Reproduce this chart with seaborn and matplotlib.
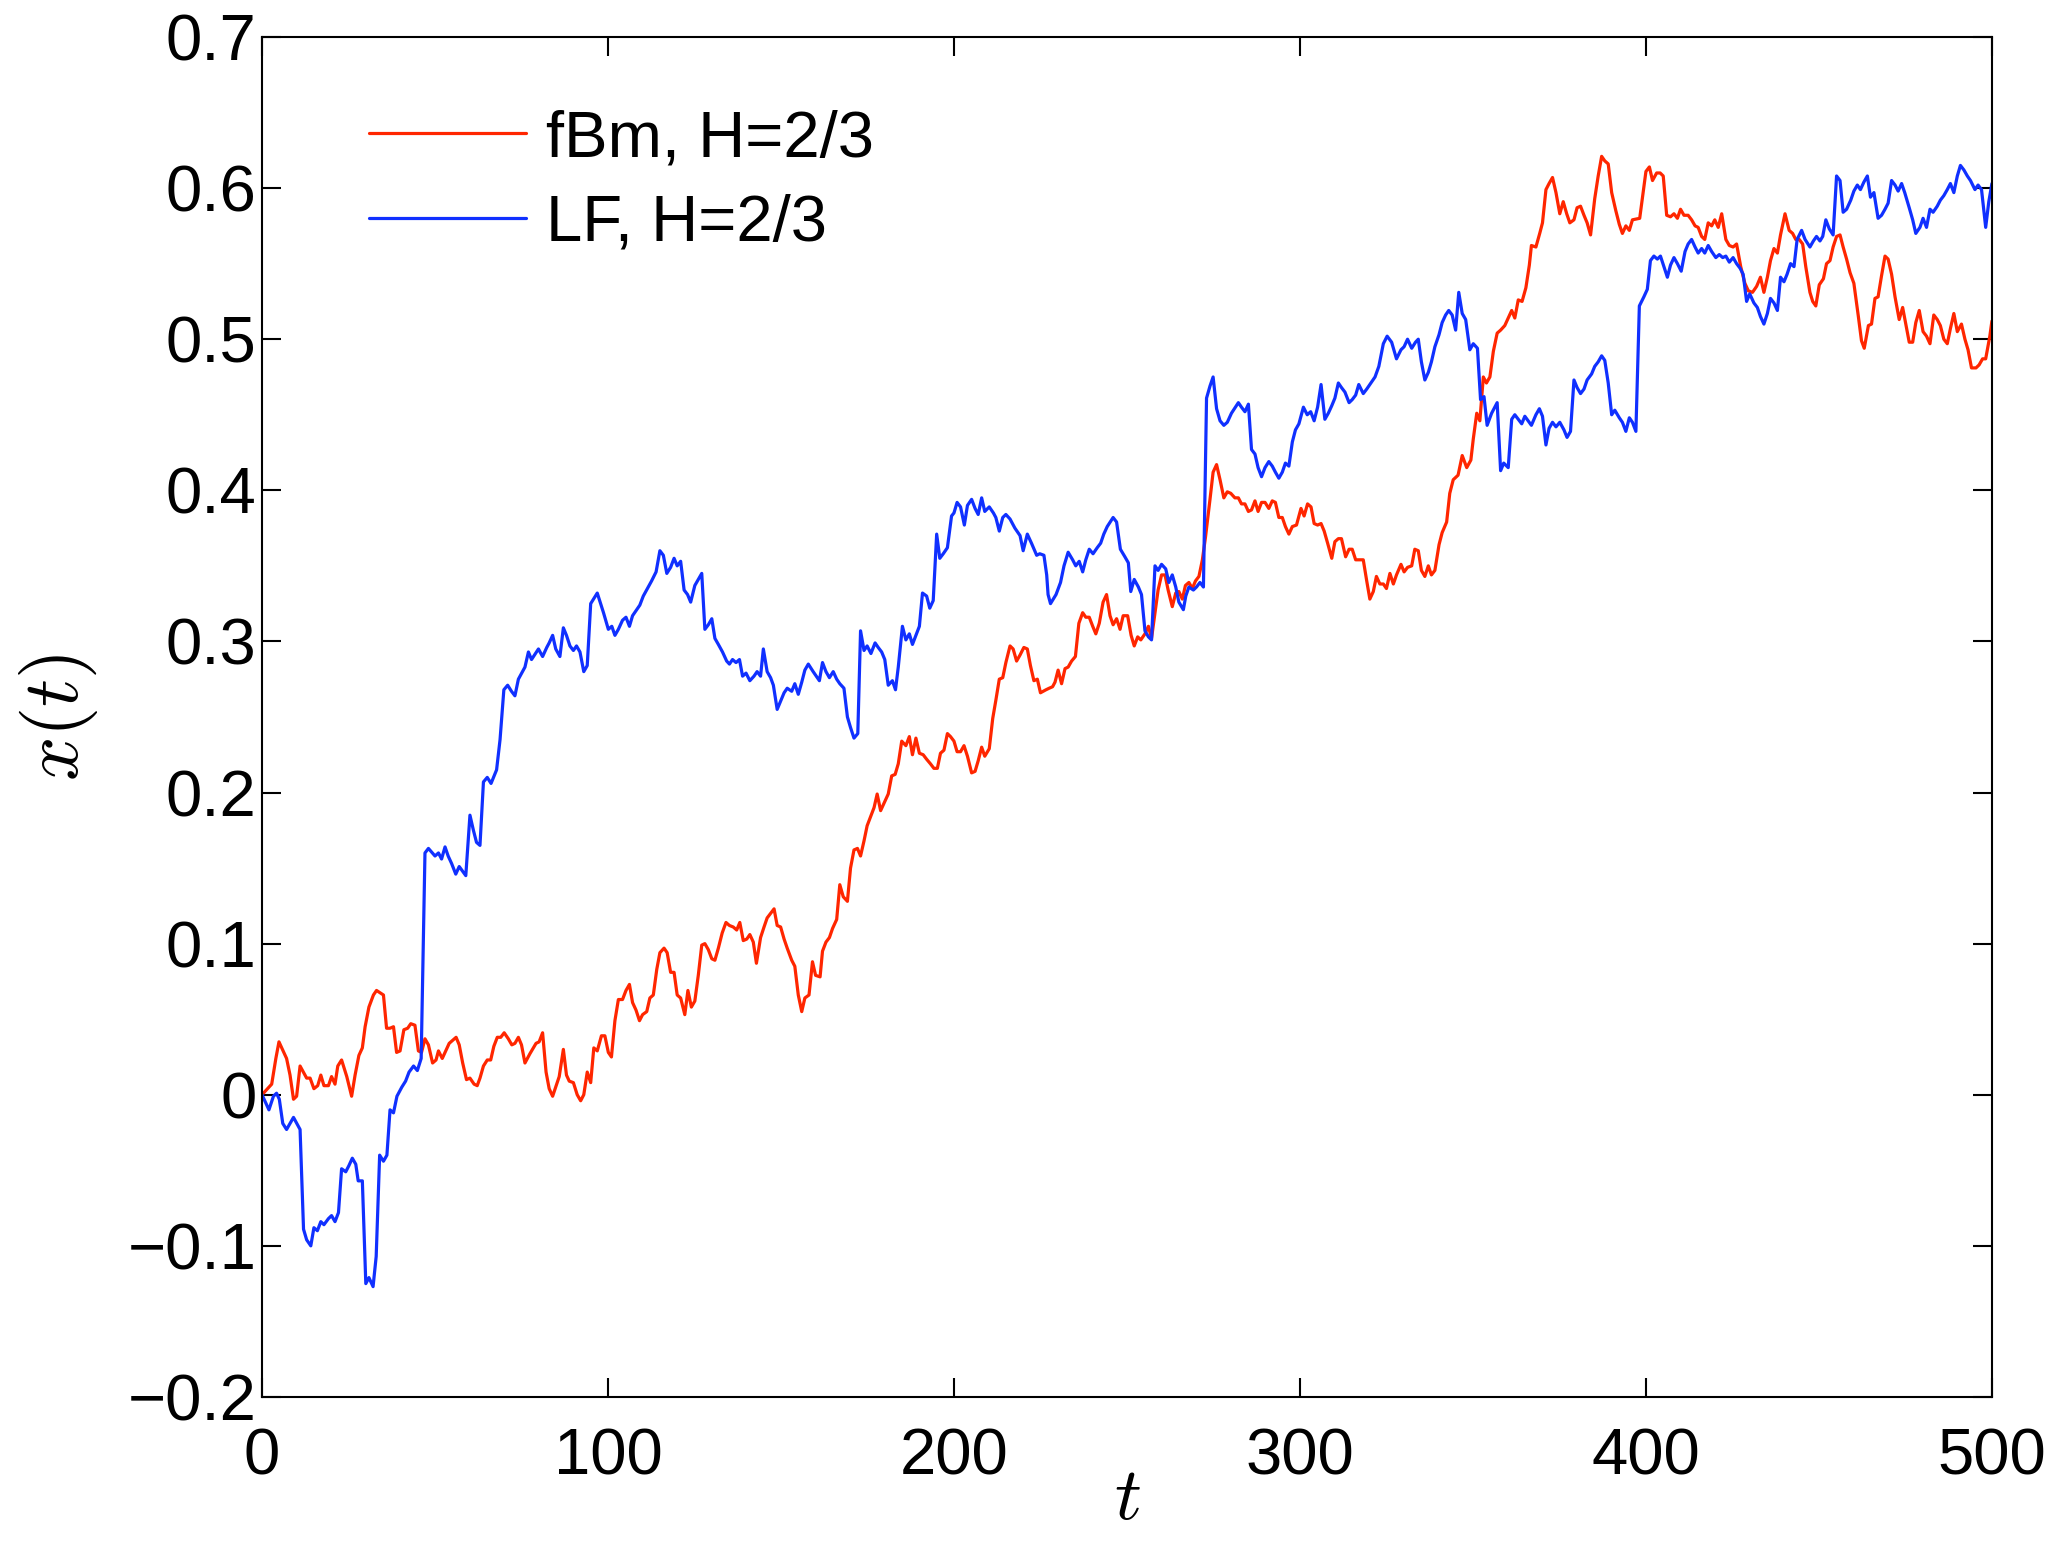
import pandas as pd
import seaborn as sns
import matplotlib.pyplot as plt

# values: (t, x(t)) vertices
fbm = [
    (0.0, 0.000), (2.8, 0.007), (4.0, 0.024), (4.9, 0.035), (7.1, 0.024), (8.1, 0.013), (9.1, -0.003),
    (10.0, -0.001), (11.0, 0.019), (12.9, 0.011), (13.9, 0.011), (15.0, 0.004), (16.1, 0.006), (17.0, 0.013),
    (17.9, 0.006), (19.2, 0.006), (20.1, 0.012), (21.1, 0.007), (21.9, 0.019), (23.0, 0.023), (24.5, 0.012),
    (25.9, -0.001), (26.9, 0.013), (28.0, 0.026), (29.0, 0.031), (29.8, 0.045), (30.9, 0.058), (32.2, 0.066),
    (33.1, 0.069), (35.1, 0.066), (36.0, 0.044), (37.0, 0.044), (38.0, 0.045), (38.9, 0.028), (39.9, 0.029),
    (41.0, 0.043), (42.1, 0.044), (43.0, 0.047), (44.2, 0.046), (45.2, 0.029), (46.1, 0.028), (47.1, 0.037),
    (48.1, 0.033), (49.3, 0.021), (50.3, 0.023), (51.0, 0.029), (52.1, 0.024), (54.1, 0.034), (55.1, 0.036),
    (56.1, 0.038), (57.0, 0.033), (58.0, 0.021), (59.1, 0.010), (60.1, 0.011), (61.3, 0.007), (62.2, 0.006),
    (63.0, 0.011), (64.0, 0.019), (65.1, 0.023), (66.1, 0.023), (67.0, 0.032), (68.0, 0.038), (69.0, 0.038),
    (70.0, 0.041), (71.2, 0.037), (72.2, 0.033), (73.1, 0.034), (74.1, 0.038), (75.0, 0.033), (76.0, 0.021),
    (77.4, 0.027), (79.2, 0.034), (80.1, 0.035), (81.1, 0.041), (82.1, 0.015), (83.0, 0.004), (84.0, -0.001),
    (85.9, 0.012), (87.1, 0.030), (88.0, 0.013), (88.8, 0.009), (90.0, 0.008), (91.1, 0.000), (92.1, -0.004),
    (93.0, 0.000), (94.0, 0.015), (95.0, 0.008), (95.9, 0.031), (96.9, 0.029), (98.1, 0.039), (99.1, 0.039),
    (100.1, 0.028), (101.0, 0.025), (102.0, 0.049), (103.0, 0.063), (104.2, 0.063), (105.2, 0.069),
    (106.2, 0.073), (107.1, 0.061), (108.1, 0.056), (109.1, 0.049), (110.0, 0.053), (111.2, 0.055),
    (112.1, 0.064), (113.1, 0.066), (114.1, 0.083), (115.0, 0.094), (116.2, 0.097), (117.1, 0.094),
    (118.1, 0.081), (119.1, 0.081), (120.0, 0.066), (121.0, 0.064), (122.2, 0.053), (123.1, 0.069),
    (124.1, 0.058), (125.1, 0.062), (126.1, 0.079), (127.1, 0.099), (128.0, 0.100), (129.0, 0.096),
    (130.0, 0.090), (130.9, 0.089), (131.9, 0.097), (133.0, 0.107), (134.1, 0.114), (135.1, 0.112),
    (136.2, 0.111), (137.2, 0.109), (138.1, 0.114), (139.1, 0.102), (140.1, 0.103), (141.0, 0.106),
    (142.0, 0.101), (142.9, 0.087), (144.1, 0.104), (145.1, 0.111), (146.0, 0.117), (147.0, 0.120),
    (148.0, 0.123), (148.9, 0.112), (149.9, 0.111), (150.9, 0.103), (151.8, 0.097), (153.1, 0.089),
    (154.0, 0.085), (155.0, 0.066), (156.0, 0.055), (156.9, 0.064), (158.1, 0.066), (159.1, 0.088),
    (160.0, 0.079), (161.3, 0.078), (162.0, 0.095), (163.0, 0.101), (164.0, 0.104), (164.9, 0.110),
    (166.1, 0.116), (167.0, 0.139), (168.0, 0.131), (169.2, 0.128), (170.1, 0.150), (171.1, 0.162),
    (172.1, 0.163), (173.0, 0.158), (174.0, 0.168), (174.9, 0.178), (175.9, 0.184), (176.9, 0.190),
    (177.8, 0.199), (178.8, 0.188), (179.8, 0.193), (181.0, 0.199), (182.0, 0.211), (183.0, 0.212),
    (183.9, 0.219), (184.9, 0.234), (186.1, 0.231), (187.1, 0.237), (188.0, 0.225), (189.0, 0.236),
    (190.0, 0.226), (191.1, 0.225), (192.1, 0.222), (193.2, 0.219), (194.2, 0.216), (195.2, 0.216),
    (196.1, 0.226), (197.1, 0.228), (198.1, 0.239), (199.0, 0.237), (200.0, 0.234), (200.9, 0.227),
    (201.9, 0.227), (202.9, 0.231), (203.9, 0.224), (205.1, 0.213), (206.1, 0.214), (207.0, 0.221),
    (208.0, 0.230), (208.9, 0.224), (210.2, 0.229), (211.2, 0.249), (212.1, 0.261), (213.1, 0.275),
    (214.1, 0.276), (215.0, 0.286), (216.2, 0.297), (217.1, 0.295), (218.1, 0.287), (219.1, 0.291),
    (220.2, 0.296), (221.2, 0.295), (222.1, 0.284), (223.1, 0.274), (224.1, 0.275), (225.0, 0.266),
    (226.6, 0.268), (227.5, 0.269), (228.5, 0.270), (229.2, 0.273), (230.1, 0.281), (231.1, 0.272),
    (232.1, 0.282), (233.0, 0.283), (234.0, 0.287), (235.1, 0.290), (236.1, 0.312), (237.2, 0.319),
    (238.1, 0.316), (239.1, 0.316), (240.1, 0.310), (241.0, 0.305), (242.0, 0.312), (243.1, 0.326),
    (244.1, 0.331), (245.1, 0.317), (246.0, 0.311), (247.0, 0.315), (248.0, 0.308), (248.9, 0.317),
    (250.2, 0.317), (251.2, 0.304), (252.1, 0.297), (253.1, 0.303), (254.0, 0.301), (255.2, 0.305),
    (256.2, 0.310), (257.1, 0.302), (258.1, 0.319), (259.0, 0.334), (260.0, 0.344), (261.0, 0.344),
    (261.9, 0.334), (263.1, 0.323), (264.1, 0.332), (265.0, 0.333), (266.0, 0.328), (266.9, 0.337),
    (267.9, 0.339), (268.9, 0.335), (269.8, 0.340), (270.8, 0.343), (271.8, 0.354), (272.7, 0.369),
    (274.0, 0.394), (274.9, 0.412), (275.9, 0.417), (276.9, 0.407), (278.0, 0.395), (279.0, 0.399),
    (280.0, 0.398), (281.2, 0.395), (282.2, 0.395), (283.1, 0.391), (284.1, 0.391), (285.1, 0.386),
    (286.0, 0.387), (287.0, 0.393), (287.9, 0.386), (288.9, 0.392), (289.9, 0.392), (291.0, 0.388),
    (292.0, 0.393), (292.9, 0.392), (293.9, 0.382), (294.9, 0.382), (295.8, 0.376), (296.8, 0.371),
    (297.8, 0.376), (299.0, 0.377), (300.3, 0.388), (301.2, 0.383), (302.2, 0.391), (303.2, 0.389),
    (304.1, 0.378), (305.1, 0.377), (306.1, 0.378), (307.0, 0.373), (308.0, 0.365), (309.2, 0.355),
    (310.1, 0.366), (311.1, 0.368), (312.0, 0.368), (313.2, 0.356), (314.2, 0.361), (315.1, 0.361),
    (316.1, 0.354), (317.3, 0.354), (318.3, 0.354), (319.3, 0.340), (320.2, 0.328), (321.2, 0.333),
    (322.1, 0.343), (323.1, 0.338), (324.1, 0.338), (325.0, 0.335), (326.0, 0.345), (327.0, 0.338),
    (327.9, 0.344), (329.2, 0.351), (330.1, 0.346), (331.1, 0.349), (332.3, 0.350), (333.2, 0.361),
    (334.2, 0.360), (335.1, 0.347), (336.1, 0.343), (337.1, 0.350), (338.0, 0.344), (339.0, 0.347),
    (340.2, 0.364), (341.1, 0.372), (342.4, 0.379), (343.3, 0.398), (344.3, 0.407), (345.7, 0.410),
    (346.9, 0.423), (348.2, 0.415), (349.4, 0.420), (350.1, 0.434), (351.1, 0.451), (352.0, 0.446),
    (353.0, 0.475), (353.9, 0.471), (354.9, 0.475), (355.9, 0.492), (357.0, 0.504), (358.0, 0.506),
    (359.2, 0.509), (360.2, 0.514), (361.2, 0.519), (362.1, 0.514), (363.1, 0.526), (364.2, 0.525),
    (365.3, 0.534), (366.3, 0.549), (366.9, 0.562), (368.2, 0.561), (369.3, 0.570), (370.1, 0.577),
    (371.1, 0.599), (372.0, 0.603), (373.0, 0.607), (374.0, 0.597), (375.1, 0.583), (376.1, 0.591),
    (377.1, 0.583), (378.0, 0.577), (379.2, 0.579), (380.1, 0.587), (381.1, 0.588), (382.1, 0.582),
    (383.0, 0.577), (384.0, 0.569), (385.2, 0.593), (386.2, 0.608), (387.2, 0.621), (388.1, 0.618),
    (389.1, 0.616), (390.1, 0.597), (391.3, 0.585), (392.3, 0.576), (393.2, 0.570), (394.2, 0.575),
    (395.2, 0.572), (396.1, 0.579), (398.2, 0.580), (399.2, 0.597), (400.0, 0.611), (401.0, 0.614),
    (401.9, 0.605), (403.1, 0.610), (404.1, 0.610), (405.0, 0.608), (406.0, 0.582), (407.1, 0.581),
    (408.1, 0.583), (409.1, 0.580), (410.0, 0.586), (411.0, 0.582), (412.2, 0.582), (413.2, 0.579),
    (414.2, 0.575), (415.1, 0.574), (416.1, 0.568), (417.0, 0.566), (418.0, 0.577), (419.0, 0.575),
    (419.9, 0.579), (420.9, 0.574), (421.9, 0.583), (423.1, 0.566), (424.1, 0.562), (425.2, 0.561),
    (426.2, 0.563), (427.4, 0.548), (428.6, 0.537), (429.6, 0.532), (430.8, 0.531), (432.0, 0.535),
    (433.1, 0.541), (434.1, 0.531), (435.1, 0.541), (436.0, 0.552), (437.0, 0.560), (438.0, 0.557),
    (438.9, 0.569), (440.2, 0.583), (441.4, 0.572), (442.4, 0.570), (443.3, 0.566), (444.3, 0.566),
    (445.3, 0.563), (446.2, 0.548), (447.4, 0.531), (448.2, 0.525), (449.1, 0.522), (450.1, 0.536),
    (451.3, 0.540), (452.2, 0.550), (453.2, 0.552), (454.1, 0.561), (455.1, 0.568), (456.1, 0.569),
    (457.0, 0.561), (458.0, 0.553), (459.0, 0.544), (460.1, 0.537), (461.4, 0.515), (462.3, 0.499),
    (463.1, 0.494), (464.3, 0.509), (465.2, 0.510), (466.2, 0.527), (467.1, 0.528), (468.1, 0.542),
    (469.1, 0.555), (470.0, 0.553), (471.0, 0.543), (472.0, 0.528), (473.2, 0.513), (474.2, 0.521),
    (475.1, 0.510), (476.1, 0.498), (477.1, 0.498), (478.0, 0.511), (479.0, 0.519), (480.1, 0.505),
    (481.1, 0.502), (482.1, 0.497), (483.2, 0.516), (484.2, 0.513), (485.1, 0.509), (486.1, 0.500),
    (487.1, 0.497), (488.0, 0.507), (489.0, 0.517), (490.0, 0.505), (491.2, 0.510), (492.2, 0.500),
    (493.1, 0.493), (494.1, 0.481), (495.4, 0.481), (496.3, 0.483), (497.3, 0.487), (498.2, 0.487),
    (499.4, 0.502), (500.0, 0.512),
]

lf = [
    (0.0, 0.000), (2.0, -0.010), (3.3, -0.001), (4.2, 0.001), (5.0, -0.003), (6.0, -0.019), (7.1, -0.023),
    (9.1, -0.015), (11.0, -0.023), (12.0, -0.089), (12.9, -0.096), (14.1, -0.100), (15.0, -0.088),
    (16.0, -0.090), (17.0, -0.084), (17.9, -0.086), (19.2, -0.082), (20.1, -0.080), (21.1, -0.084),
    (22.1, -0.078), (23.0, -0.049), (24.2, -0.051), (25.1, -0.047), (26.1, -0.042), (27.1, -0.046),
    (27.8, -0.057), (29.0, -0.057), (30.0, -0.125), (30.9, -0.121), (32.1, -0.127), (33.0, -0.107),
    (34.0, -0.040), (35.1, -0.044), (36.1, -0.040), (37.0, -0.010), (38.0, -0.012), (39.0, -0.001),
    (40.4, 0.005), (41.5, 0.009), (42.5, 0.015), (43.8, 0.019), (44.9, 0.016), (46.0, 0.024), (47.1, 0.160),
    (48.1, 0.163), (50.0, 0.158), (51.0, 0.160), (51.9, 0.156), (52.9, 0.164), (53.8, 0.158), (54.8, 0.153),
    (56.0, 0.146), (57.0, 0.151), (58.9, 0.145), (60.1, 0.185), (61.1, 0.175), (62.0, 0.167), (63.0, 0.165),
    (64.0, 0.207), (65.1, 0.210), (66.2, 0.206), (67.8, 0.215), (68.8, 0.235), (69.9, 0.268), (71.0, 0.271),
    (72.1, 0.267), (73.1, 0.264), (74.1, 0.275), (76.0, 0.283), (77.0, 0.293), (77.9, 0.288), (79.9, 0.295),
    (81.1, 0.290), (82.3, 0.296), (83.0, 0.299), (84.0, 0.304), (84.9, 0.295), (86.1, 0.290), (87.1, 0.309),
    (88.0, 0.304), (89.0, 0.297), (90.0, 0.294), (90.9, 0.297), (91.9, 0.293), (93.0, 0.280), (94.0, 0.284),
    (95.0, 0.325), (96.9, 0.332), (98.7, 0.319), (100.1, 0.308), (101.1, 0.310), (102.0, 0.304),
    (103.0, 0.308), (104.2, 0.314), (105.2, 0.316), (106.2, 0.310), (107.1, 0.317), (108.3, 0.321),
    (109.2, 0.324), (110.2, 0.330), (111.4, 0.335), (112.6, 0.340), (113.9, 0.346), (115.0, 0.360),
    (116.0, 0.357), (117.0, 0.345), (118.1, 0.349), (119.1, 0.355), (120.0, 0.350), (121.0, 0.353),
    (122.0, 0.334), (123.0, 0.331), (123.9, 0.326), (125.1, 0.337), (126.1, 0.341), (127.1, 0.345),
    (128.0, 0.308), (129.0, 0.311), (130.0, 0.315), (130.9, 0.302), (131.9, 0.298), (133.1, 0.293),
    (134.3, 0.287), (135.1, 0.285), (136.0, 0.288), (137.0, 0.286), (138.0, 0.288), (138.9, 0.277),
    (139.9, 0.279), (141.0, 0.274), (142.2, 0.277), (143.1, 0.280), (144.1, 0.277), (144.9, 0.295),
    (146.0, 0.280), (147.0, 0.276), (147.8, 0.271), (148.9, 0.255), (150.9, 0.266), (151.8, 0.269),
    (153.1, 0.267), (154.0, 0.272), (155.0, 0.265), (156.0, 0.273), (156.9, 0.281), (157.9, 0.285),
    (159.3, 0.280), (161.1, 0.274), (162.0, 0.286), (163.0, 0.280), (164.0, 0.276), (165.1, 0.280),
    (166.1, 0.275), (167.0, 0.272), (168.2, 0.269), (169.2, 0.250), (170.1, 0.243), (171.1, 0.236),
    (172.2, 0.239), (173.0, 0.307), (174.0, 0.294), (174.9, 0.297), (176.0, 0.292), (177.2, 0.299),
    (178.1, 0.296), (179.1, 0.293), (180.0, 0.288), (181.0, 0.271), (182.2, 0.274), (183.1, 0.268),
    (183.9, 0.283), (185.1, 0.310), (186.1, 0.301), (187.1, 0.305), (188.0, 0.298), (189.0, 0.304),
    (190.0, 0.310), (190.9, 0.332), (192.1, 0.330), (193.0, 0.322), (194.0, 0.327), (195.0, 0.371),
    (195.9, 0.355), (196.9, 0.358), (198.1, 0.362), (199.3, 0.383), (200.0, 0.385), (200.9, 0.392),
    (201.9, 0.389), (203.0, 0.377), (203.9, 0.390), (205.1, 0.394), (206.1, 0.388), (207.0, 0.384),
    (208.0, 0.395), (208.9, 0.386), (210.2, 0.389), (211.4, 0.385), (212.1, 0.382), (213.1, 0.373),
    (214.1, 0.382), (215.0, 0.384), (216.2, 0.381), (217.6, 0.375), (219.1, 0.370), (220.0, 0.360),
    (221.2, 0.371), (222.4, 0.365), (223.9, 0.357), (224.8, 0.358), (226.0, 0.357), (226.8, 0.344),
    (227.2, 0.331), (227.9, 0.325), (229.5, 0.331), (230.8, 0.339), (231.8, 0.350), (233.0, 0.359),
    (234.3, 0.354), (235.2, 0.350), (236.2, 0.353), (237.2, 0.346), (238.1, 0.354), (239.1, 0.361),
    (240.2, 0.358), (241.4, 0.362), (242.4, 0.365), (243.3, 0.371), (244.3, 0.376), (246.0, 0.382),
    (247.0, 0.379), (248.1, 0.361), (249.4, 0.356), (250.4, 0.352), (251.1, 0.333), (252.1, 0.341),
    (253.3, 0.336), (254.2, 0.331), (255.2, 0.307), (256.2, 0.303), (257.1, 0.301), (258.1, 0.350),
    (259.0, 0.347), (260.0, 0.351), (261.2, 0.348), (262.1, 0.339), (263.1, 0.344), (264.1, 0.336),
    (265.0, 0.326), (266.3, 0.321), (267.0, 0.330), (267.9, 0.336), (269.2, 0.334), (270.1, 0.336),
    (271.1, 0.339), (272.1, 0.336), (273.0, 0.461), (274.0, 0.469), (274.9, 0.475), (275.9, 0.454),
    (276.9, 0.446), (278.0, 0.443), (279.0, 0.445), (280.2, 0.451), (282.2, 0.458), (283.1, 0.455),
    (284.1, 0.452), (285.1, 0.457), (286.0, 0.427), (287.0, 0.424), (287.9, 0.415), (288.9, 0.409),
    (289.9, 0.415), (291.0, 0.419), (292.0, 0.416), (292.9, 0.412), (293.9, 0.408), (294.9, 0.412),
    (295.8, 0.418), (296.8, 0.416), (297.8, 0.432), (298.7, 0.440), (299.7, 0.444), (301.0, 0.455),
    (302.1, 0.450), (303.1, 0.452), (304.1, 0.446), (305.1, 0.455), (306.1, 0.470), (307.2, 0.447),
    (308.2, 0.451), (309.2, 0.456), (310.1, 0.461), (311.1, 0.471), (312.0, 0.468), (313.0, 0.465),
    (314.2, 0.458), (315.1, 0.460), (316.1, 0.463), (317.0, 0.470), (318.3, 0.464), (319.3, 0.467),
    (320.5, 0.471), (321.7, 0.475), (322.8, 0.482), (324.1, 0.497), (325.2, 0.502), (326.5, 0.498),
    (327.9, 0.487), (329.2, 0.493), (330.1, 0.495), (331.1, 0.500), (332.3, 0.494), (333.4, 0.498),
    (334.2, 0.500), (335.1, 0.485), (336.1, 0.473), (337.1, 0.478), (338.0, 0.485), (339.0, 0.495),
    (340.2, 0.503), (341.1, 0.511), (342.1, 0.516), (343.0, 0.519), (344.0, 0.516), (345.0, 0.506),
    (345.9, 0.531), (346.9, 0.517), (347.9, 0.513), (349.1, 0.493), (350.1, 0.497), (351.3, 0.494),
    (352.2, 0.460), (353.2, 0.462), (354.1, 0.443), (355.4, 0.451), (357.0, 0.458), (358.0, 0.413),
    (358.9, 0.418), (360.2, 0.415), (361.2, 0.447), (362.1, 0.450), (364.1, 0.444), (365.0, 0.449),
    (366.9, 0.443), (368.2, 0.450), (369.2, 0.454), (370.1, 0.449), (371.1, 0.430), (372.0, 0.441),
    (373.0, 0.445), (374.0, 0.442), (375.1, 0.445), (376.3, 0.440), (377.2, 0.435), (378.2, 0.439),
    (379.2, 0.473), (380.1, 0.468), (381.1, 0.464), (382.1, 0.467), (383.0, 0.473), (384.3, 0.477),
    (385.2, 0.482), (386.2, 0.485), (387.2, 0.489), (388.1, 0.486), (389.1, 0.471), (390.1, 0.450),
    (391.0, 0.453), (392.3, 0.448), (393.2, 0.445), (394.2, 0.439), (395.2, 0.448), (396.1, 0.445),
    (397.1, 0.439), (398.1, 0.522), (399.4, 0.528), (400.4, 0.533), (401.3, 0.552), (402.3, 0.555),
    (403.3, 0.553), (404.2, 0.555), (405.2, 0.548), (406.2, 0.541), (407.1, 0.549), (408.1, 0.554),
    (409.1, 0.550), (410.2, 0.545), (411.3, 0.558), (412.2, 0.563), (413.2, 0.566), (414.2, 0.561),
    (415.1, 0.557), (416.1, 0.560), (417.0, 0.557), (418.0, 0.562), (419.0, 0.558), (420.2, 0.554),
    (421.2, 0.556), (422.2, 0.554), (423.1, 0.555), (424.1, 0.551), (425.2, 0.554), (426.2, 0.550),
    (427.2, 0.547), (428.1, 0.543), (429.1, 0.525), (430.0, 0.530), (431.2, 0.524), (432.2, 0.521),
    (433.1, 0.515), (434.1, 0.510), (435.1, 0.517), (436.0, 0.527), (437.0, 0.524), (438.0, 0.519),
    (438.9, 0.541), (439.9, 0.538), (440.8, 0.543), (441.8, 0.550), (442.8, 0.548), (443.7, 0.566),
    (445.0, 0.572), (446.0, 0.566), (447.4, 0.561), (448.4, 0.565), (449.3, 0.568), (450.3, 0.565),
    (451.1, 0.568), (452.0, 0.579), (453.0, 0.573), (454.1, 0.569), (455.1, 0.608), (456.1, 0.605),
    (457.0, 0.584), (458.0, 0.586), (459.2, 0.592), (460.1, 0.598), (461.1, 0.602), (462.0, 0.599),
    (463.0, 0.604), (464.0, 0.608), (464.9, 0.594), (465.9, 0.597), (467.1, 0.580), (468.1, 0.582),
    (469.1, 0.586), (470.0, 0.590), (471.0, 0.605), (472.0, 0.602), (472.9, 0.598), (473.9, 0.603),
    (474.8, 0.597), (476.1, 0.587), (477.1, 0.579), (478.0, 0.570), (479.2, 0.574), (480.1, 0.580),
    (481.1, 0.574), (482.1, 0.586), (483.0, 0.584), (484.2, 0.588), (485.1, 0.592), (486.1, 0.595),
    (487.1, 0.599), (488.0, 0.603), (489.0, 0.597), (490.0, 0.608), (490.9, 0.615), (491.9, 0.612),
    (492.9, 0.608), (493.8, 0.605), (495.1, 0.599), (496.0, 0.602), (497.0, 0.599), (498.2, 0.574),
    (499.1, 0.591), (500.0, 0.603),
]

series_names = ['fBm, H=2/3', 'LF, H=2/3']
line_colors = ['#ff2600', '#1030ff']
x_ticks = [0, 100, 200, 300, 400, 500]
y_ticks = [-0.2, -0.1, 0, 0.1, 0.2, 0.3, 0.4, 0.5, 0.6, 0.7]
y_tick_labels = ['\u22120.2', '\u22120.1', '0', '0.1', '0.2', '0.3', '0.4', '0.5', '0.6', '0.7']

sns.set_style('ticks')
plt.rcParams['font.family'] = ['Liberation Sans', 'DejaVu Sans']
plt.rcParams['mathtext.fontset'] = 'cm'
plt.rcParams['text.color'] = 'black'
plt.rcParams['axes.labelcolor'] = 'black'

rows = []
for name, pts in zip(series_names, [fbm, lf]):
    for t, v in pts:
        rows.append({'t': t, 'x': v, 'series': name})
df = pd.DataFrame(rows)

fig = plt.figure(figsize=(20.55, 15.47), dpi=100)
ax = fig.add_axes([0.1275, 0.0970, 0.8418, 0.8791])
sns.lineplot(data=df, x='t', y='x', hue='series', palette=line_colors,
             sort=False, estimator=None, linewidth=2.3, ax=ax)

ax.set_xlim(0, 500)
ax.set_ylim(-0.2, 0.7)
ax.set_xticks(x_ticks)
ax.set_xticklabels([str(v) for v in x_ticks])
ax.set_yticks(y_ticks)
ax.set_yticklabels(y_tick_labels)
ax.tick_params(direction='in', length=14, width=1.5, top=True, right=True,
               labelsize=47, colors='black')
ax.tick_params(axis='x', pad=22)
ax.tick_params(axis='y', pad=4)
for sp in ax.spines.values():
    sp.set_linewidth(1.5)
    sp.set_color('black')

ax.set_xlabel('$t$', fontsize=54, labelpad=-16)
ax.set_ylabel('$x(t)$', fontsize=56, labelpad=20)

leg = ax.legend(loc='upper left', bbox_to_anchor=(0.062, 0.947), frameon=False,
                fontsize=47, handlelength=2.4, handletextpad=0.3, labelspacing=0.38,
                borderpad=0, borderaxespad=0)
for txt in leg.get_texts():
    txt.set_color('black')

fig.savefig('out.png', dpi=100)
plt.close(fig)
